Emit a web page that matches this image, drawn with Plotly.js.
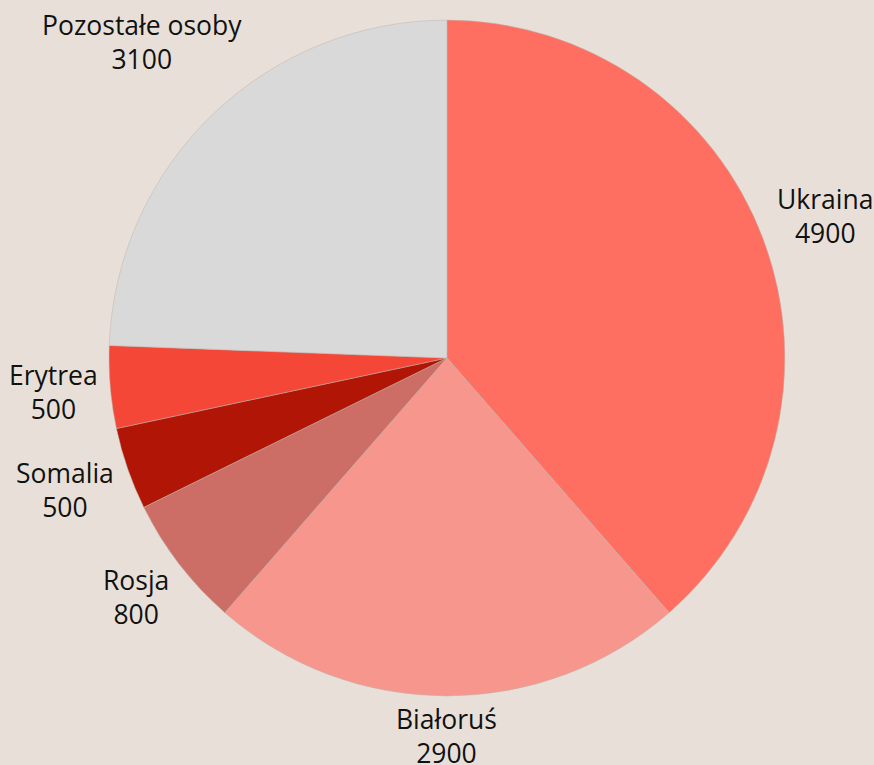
<!DOCTYPE html>
<html><head><meta charset="utf-8">
<script src="https://cdn.plot.ly/plotly-3.0.1.min.js"></script>
<style>html,body{margin:0;padding:0;background:#e8e0d8;}</style>
</head><body>
<div id="chart" style="width:874px;height:765px;"></div>
<script>
const labels = ["Ukraina", "Białoruś", "Rosja", "Somalia", "Erytrea", "Pozostałe osoby"];
const values = [4900, 2900, 800, 500, 500, 3100];
const colors = ["#ff6f61", "#f7968d", "#cd6e66", "#b01505", "#f44738", "#d9d9d9"];

const W = 874, H = 765;
const domX = [0.1247, 0.898], domY = [0.090, 0.974];
const cx = W * (domX[0] + domX[1]) / 2;
const cy = H * (1 - (domY[0] + domY[1]) / 2);
const R = Math.min(W * (domX[1] - domX[0]), H * (domY[1] - domY[0])) / 2;
const FS = 26.5, FONT = "Open Sans", GAP = 10;
// label direction tweak (layout only): bottom label sits straight under the centre
const angleOverride = {"Białoruś": 180};

const ctx = document.createElement("canvas").getContext("2d");
ctx.font = FS + 'px "' + FONT + '"';
const total = values.reduce((a, b) => a + b, 0);
let cum = 0;
const annotations = labels.map((lab, i) => {
  const a0 = cum / total * 360;
  cum += values[i];
  const a1 = cum / total * 360;
  let th = (a0 + a1) / 2;
  if (angleOverride[lab] !== undefined) th = angleOverride[lab];
  const t = th * Math.PI / 180;
  const txt = [lab, String(values[i])];
  const w = Math.max(...txt.map(s => ctx.measureText(s).width));
  const h = 2.3 * FS;
  const d = R + GAP + (w / 2) * Math.abs(Math.sin(t)) + (h / 2) * Math.abs(Math.cos(t));
  const px = cx + d * Math.sin(t), py = cy - d * Math.cos(t);
  return {
    x: px / W, y: 1 - py / H, xref: "paper", yref: "paper",
    xanchor: "center", yanchor: "middle", showarrow: false,
    text: txt.join("<br>"), align: "center",
    font: {family: FONT, size: FS, color: "#111111"}
  };
});

Plotly.newPlot("chart", [{
  type: "pie",
  labels: labels,
  values: values,
  sort: false,
  direction: "clockwise",
  rotation: 0,
  textinfo: "none",
  hoverinfo: "none",
  marker: {colors: colors, line: {color: "#bdb5ad", width: 0.5}},
  domain: {x: domX, y: domY},
  automargin: false,
  showlegend: false
}], {
  width: W, height: H,
  margin: {l: 0, r: 0, t: 0, b: 0},
  paper_bgcolor: "#e8e0d8",
  plot_bgcolor: "#e8e0d8",
  showlegend: false,
  annotations: annotations
}, {displayModeBar: false, staticPlot: true});
</script>
</body></html>
